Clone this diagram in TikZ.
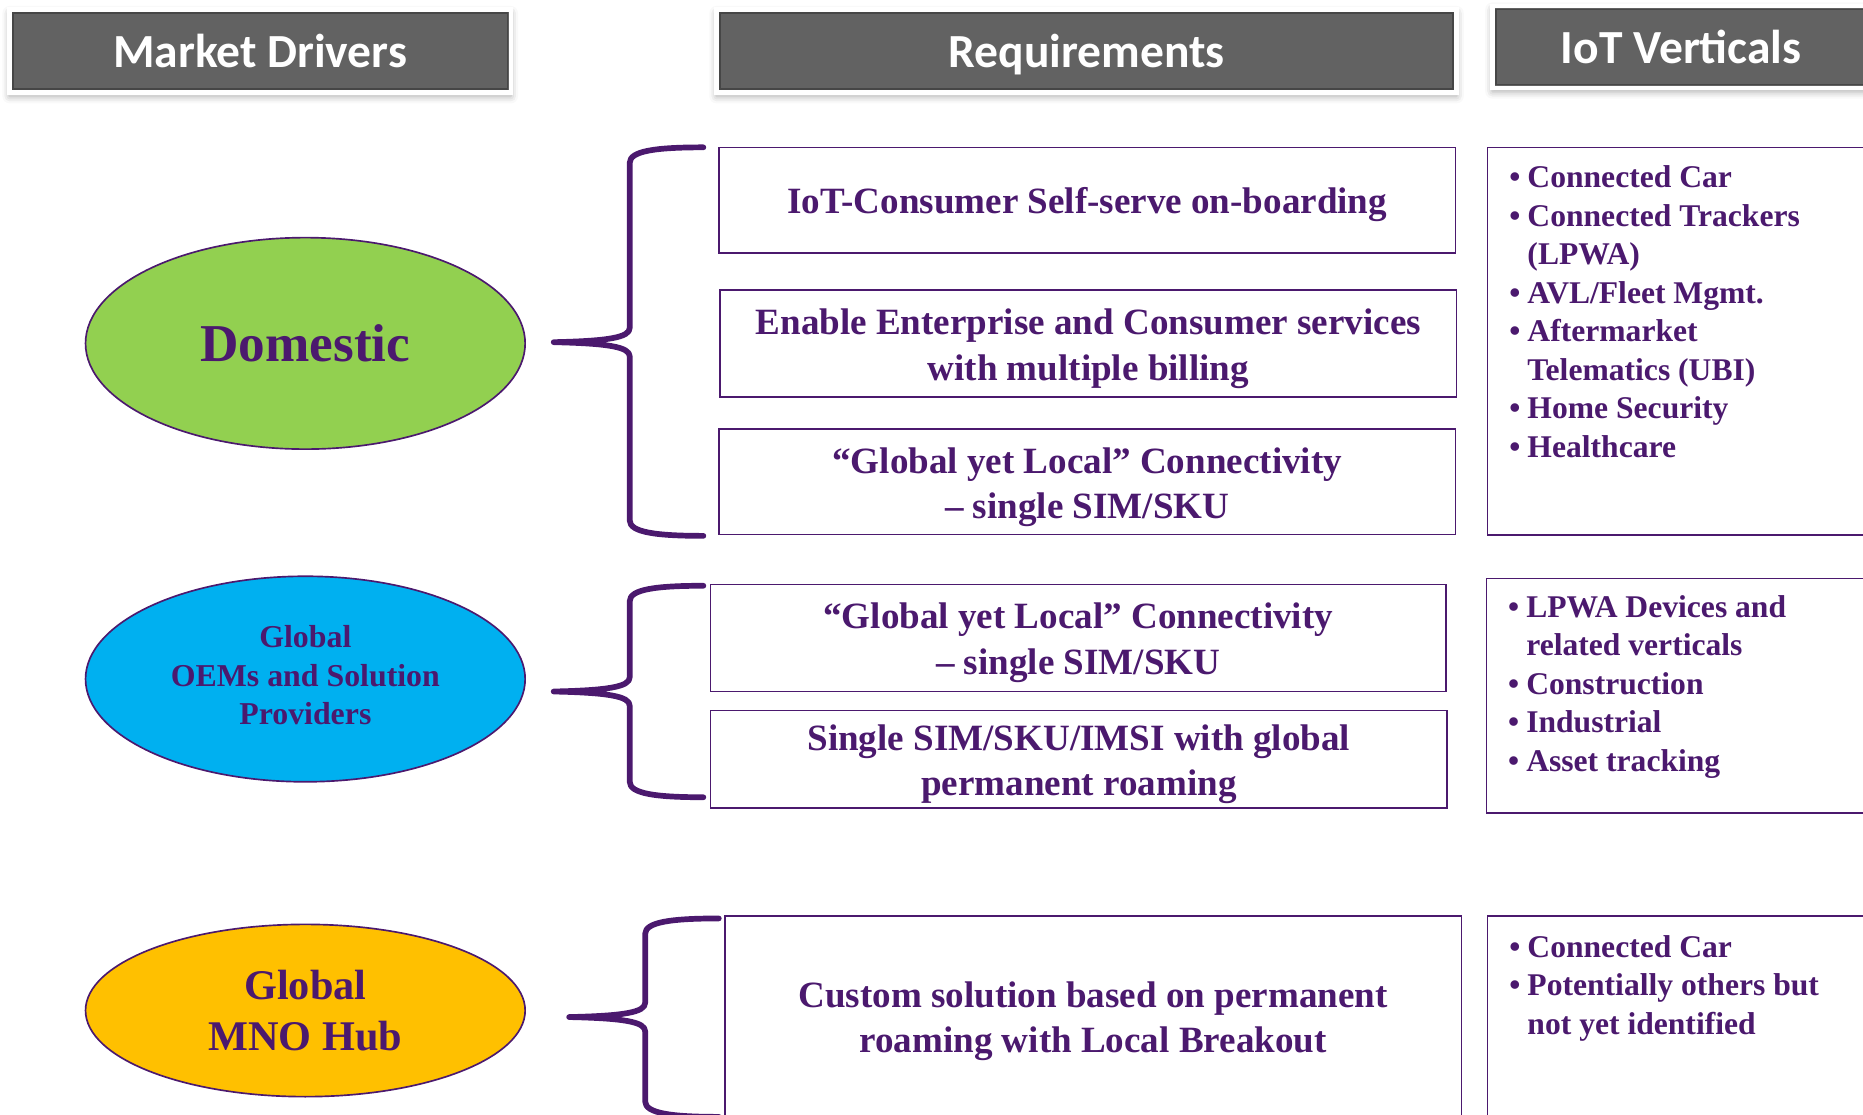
\documentclass[tikz,border=0pt]{standalone}
\usepackage{fontspec}
\setmainfont{Liberation Serif}
\newfontfamily\hdrfont{Carlito}
\usetikzlibrary{shapes.geometric,shadows.blur,calc}
\definecolor{txtpurple}{RGB}{75,25,110}
\definecolor{hdrgray}{RGB}{98,98,98}
\definecolor{hdrdark}{RGB}{70,70,70}
\definecolor{egreen}{RGB}{146,208,80}
\definecolor{ecyan}{RGB}{0,176,240}
\definecolor{eorange}{RGB}{255,192,0}
\newcommand\vbul{\makebox[7.6pt][l]{\textbullet}}
\newcommand\vind{\hspace*{7.6pt}}
\newcommand\drawbrace[5]{% name, x of vertical, y top, y mid, y bottom
  \coordinate (#1top) at ({#2+62},#3);
  \coordinate (#1tip) at ({#2-64},#4);
  \coordinate (#1bot) at ({#2+62},#5);
  \draw[bracestyle] (#1top) .. controls ({#2+22},#3) and (#2,{#3+3}) .. (#2,{#3+13})
    -- (#2,{#4-12}) .. controls (#2,{#4-4}) and ({#2-18},{#4-1}) .. (#1tip)
    .. controls ({#2-18},{#4+1}) and (#2,{#4+4}) .. (#2,{#4+12})
    -- (#2,{#5-13}) .. controls (#2,{#5-3}) and ({#2+22},#5) .. (#1bot);
}
\begin{document}
\begin{tikzpicture}[x=0.5pt,y=-0.5pt,
  hdr/.style={draw=white, line width=2pt, fill=hdrgray, inner sep=0pt, text depth=0pt,
    text=white, font=\hdrfont\bfseries\fontsize{20}{24}\selectfont,
    blur shadow={shadow xshift=0pt, shadow yshift=-1.5pt, shadow blur radius=3pt, shadow opacity=35}},
  reqbox/.style={draw=txtpurple, line width=0.65pt, fill=white, inner sep=0pt},
  reqtxt/.style={inner sep=0pt, align=center,
    text=txtpurple, font=\bfseries\fontsize{15.6}{19}\selectfont},
  vbox/.style={draw=txtpurple, line width=0.7pt, fill=white, inner sep=0pt},
  ell/.style={ellipse, draw=txtpurple, line width=0.7pt, inner sep=0pt, align=center,
    text=txtpurple},
  elltxt/.style={inner sep=0pt, align=center, text=txtpurple},
  lst/.style={inner sep=0pt, anchor=base west, text=txtpurple,
    font=\bfseries\fontsize{13.3}{16.2}\selectfont},
  bracestyle/.style={draw=txtpurple, line width=2.4pt, line cap=round, line join=round}]
\useasboundingbox (0,0) rectangle (1568,938);
\clip (0,0) rectangle (1568,938);

% headers
\node[hdr, minimum width=211pt, minimum height=35pt] (h1) at (219,43) {Market Drivers};
\node[hdr, minimum width=311.5pt, minimum height=35pt] (h2) at (914.5,43) {Requirements};
\node[hdr, minimum width=162pt, minimum height=34.5pt] (h3) at (1418,39.5) {\hspace*{-3pt}IoT Verticals};
\foreach \h in {h1,h2,h3}{
  \draw[hdrdark, line width=0.6pt] ($(\h.north west)+(5,5)$) rectangle ($(\h.south east)+(-5,-5)$);
}

% ellipses
\node[ell, fill=egreen, minimum width=185pt, minimum height=89pt,
  font=\bfseries\fontsize{22.4}{26}\selectfont] (e1) at (257,289) {Domestic};
\node[ell, fill=ecyan, minimum width=185pt, minimum height=86.5pt] (e2) at (257,571.5) {};
\node[elltxt, font=\bfseries\fontsize{13.4}{16.25}\selectfont] (e2t) at (257,568.5) {Global\\OEMs and Solution\\Providers};
\node[ell, fill=eorange, minimum width=185pt, minimum height=72.5pt,
  font=\bfseries\fontsize{17.8}{21.5}\selectfont] (e3) at (257,850.5) {Global\\MNO Hub};

% braces
\drawbrace{b1}{530}{124}{288}{451}
\drawbrace{b2}{530}{493}{582}{671}
\drawbrace{b3}{543}{773}{856}{940}

% requirement boxes
\node[reqbox, minimum width=310pt, minimum height=44.5pt] (r1) at (915,168.5) {};
\node[reqbox, minimum width=310pt, minimum height=45pt] (r2) at (916,289) {};
\node[reqbox, minimum width=310pt, minimum height=44.5pt] (r3) at (915,405.5) {};
\node[reqbox, minimum width=309.5pt, minimum height=45pt] (r4) at (907.5,537) {};
\node[reqbox, minimum width=310pt, minimum height=41pt] (r5) at (908,639) {};
\node[reqbox, minimum width=310pt, minimum height=85pt] (r6) at (920,856) {};
\node[reqtxt] (r1t) at ($(r1)+(0,4)$) {IoT-Consumer Self-serve on-boarding};
\node[reqtxt] (r2t) at ($(r2)+(0,4.5)$) {Enable Enterprise and Consumer services\\with multiple billing};
\node[reqtxt] (r3t) at ($(r3)+(0,4.5)$) {“Global yet Local” Connectivity\\– single SIM/SKU};
\node[reqtxt] (r4t) at ($(r4)+(0,4)$) {“Global yet Local” Connectivity\\– single SIM/SKU};
\node[reqtxt] (r5t) at ($(r5)+(0,4)$) {Single SIM/SKU/IMSI with global\\permanent roaming};
\node[reqtxt] (r6t) at ($(r6)+(0,3.5)$) {Custom solution based on permanent\\roaming with Local Breakout};

% vertical boxes
\node[vbox, minimum width=164pt, minimum height=163pt] (v1) at (1416,287) {};
\node[vbox, minimum width=164.5pt, minimum height=98.5pt] (v2) at (1415.5,585.5) {};
\node[vbox, minimum width=164pt, minimum height=85pt] (v3) at (1416,856) {};

\node[lst] (l1) at (1270,158) {\renewcommand\arraystretch{1}\begin{tabular}[t]{@{}l@{}}
\vbul Connected Car\\
\vbul Connected Trackers\\
\vind (LPWA)\\
\vbul AVL/Fleet Mgmt.\\
\vbul Aftermarket\\
\vind Telematics (UBI)\\
\vbul Home Security\\
\vbul Healthcare\end{tabular}};
\node[lst] (l2) at (1269,519.5) {\renewcommand\arraystretch{1}\begin{tabular}[t]{@{}l@{}}
\vbul LPWA Devices and\\
\vind related verticals\\
\vbul Construction\\
\vbul Industrial\\
\vbul Asset tracking\end{tabular}};
\node[lst] (l3) at (1270,805.5) {\renewcommand\arraystretch{1}\begin{tabular}[t]{@{}l@{}}
\vbul Connected Car\\
\vbul Potentially others but\\
\vind not yet identified\end{tabular}};
\end{tikzpicture}
\end{document}
